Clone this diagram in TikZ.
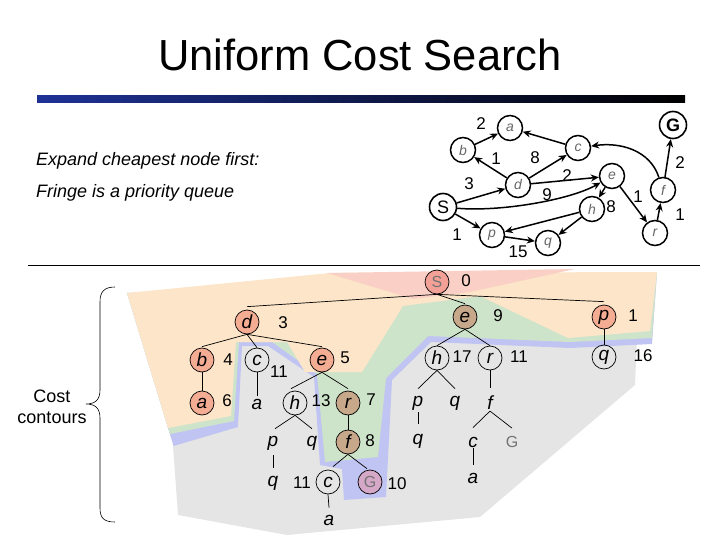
\documentclass[tikz,border=0pt]{standalone}
\usepackage{fontspec}
\setmainfont{Liberation Sans}
\usetikzlibrary{arrows.meta}
\definecolor{cred}{RGB}{250,208,198}
\definecolor{corange}{RGB}{252,229,200}
\definecolor{cgreen}{RGB}{206,228,202}
\definecolor{cblue}{RGB}{192,196,242}
\definecolor{cgray}{RGB}{229,229,229}
\definecolor{nsalmon}{RGB}{244,172,146}
\definecolor{nred}{RGB}{243,160,150}
\definecolor{nbrown}{RGB}{200,168,138}
\definecolor{npink}{RGB}{214,168,200}
\definecolor{barblue}{RGB}{30,50,150}
\begin{document}
\begin{tikzpicture}[x=1pt,y=-1pt,
 gn/.style={circle,draw,line width=1.5pt,minimum size=25pt,inner sep=0pt,font=\fontsize{14}{14}\selectfont\itshape,text=black!60},
 gb/.style={circle,draw,line width=1.6pt,minimum size=27pt,inner sep=0pt,font=\fontsize{18}{18}\selectfont\bfseries},
 gw/.style={inner sep=0pt,font=\fontsize{17}{17}\selectfont},
 ga/.style={-{Stealth[length=8pt,width=7pt]},line width=1.5pt},
 tn/.style={circle,draw,line width=0.7pt,minimum size=24pt,inner sep=0pt,font=\fontsize{19}{19}\selectfont\itshape},
 tt/.style={inner sep=1pt,font=\fontsize{19}{19}\selectfont\itshape},
 tc/.style={inner sep=0pt,font=\fontsize{17}{17}\selectfont},
 te/.style={line width=0.7pt}]
\useasboundingbox (0,0) rectangle (720,540);
% title
\node[font=\fontsize{43.5}{50}\selectfont] (title) at (360,55) {Uniform Cost Search};
\shade[left color=barblue,right color=black] (37,96) rectangle (685,103);
\node[anchor=west,font=\fontsize{18}{20}\selectfont\itshape,inner sep=0pt] (t1) at (36,161) {Expand cheapest node first:};
\node[anchor=west,font=\fontsize{18}{20}\selectfont\itshape,inner sep=0pt] (t2) at (36,193) {Fringe is a priority queue};
\draw[line width=0.8pt] (28,265) -- (700,265);
% state graph
\node[gn] (ga) at (510,128) {a};
\node[gn] (gb) at (463,150) {b};
\node[gn] (gc) at (578,148) {c};
\node[gn] (gd) at (518,185) {d};
\node[gn] (ge) at (612,176) {e};
\node[gb,font=\fontsize{18}{18}\selectfont] (gS) at (443,207) {S};
\node[gn] (gh) at (592,209) {h};
\node[gn] (gp) at (492,235) {p};
\node[gn] (gq) at (548,243) {q};
\node[gn] (gr) at (655,233) {r};
\node[gn] (gf) at (663,190) {f};
\node[gb] (gG) at (673,125) {G};
\draw[ga] (gb) -- (ga);
\draw[ga] (gd) -- (gb);
\draw[ga] (gd) -- (gc);
\draw[ga] (gc) -- (ga);
\draw[ga] (gS) -- (gd);
\draw[ga] (gd) -- (ge);
\draw[ga] (gS) .. controls (500,212) and (570,200) .. (ge);
\draw[ga] (ge) -- (gh);
\draw[ga] (ge) -- (gr);
\draw[ga] (gS) -- (gp);
\draw[ga] (gp) -- (gq);
\draw[ga] (gh) -- (gp);
\draw[ga] (gh) -- (gq);
\draw[ga] (gr) -- (gf);
\draw[ga] (gf) -- (gG);
\draw[ga] (gf) .. controls (650,150) and (620,142) .. (gc);
\node[gw] (w1) at (481,124) {2};
\node[gw] (w2) at (496,159) {1};
\node[gw] (w3) at (535,158) {8};
\node[gw] (w4) at (469,184) {3};
\node[gw] (w5) at (567,176) {2};
\node[gw] (w6) at (547,195) {9};
\node[gw] (w7) at (611,207) {8};
\node[gw] (w8) at (638,197) {1};
\node[gw] (w9) at (457,235) {1};
\node[gw] (w10) at (518,252) {15};
\node[gw] (w11) at (680,163) {2};
\node[gw] (w12) at (680,215) {1};
% contours
\fill[cgray] (173,446) -- (178,515) -- (287,535) -- (480,517) -- (635,385) -- (637,338) -- (430,335) -- (243,343) -- cycle;
\fill[cblue] (127,293) -- (657,272) -- (652,344) -- (570,348) -- (431,342) -- (392,380) -- (386,497) -- (344,500) -- (342,469) -- (320,465) -- (314,377) -- (268,346) -- (242,346) -- (238,427) -- (173.5,446) -- cycle;
\fill[cgreen] (127,293) -- (657,272) -- (652,338) -- (570,342) -- (428,336) -- (386,378) -- (378,457) -- (325,462) -- (317,374) -- (272,342) -- (239,342) -- (234,421) -- (170,434) -- cycle;
\fill[corange] (127,293) -- (330,273) -- (657,272) -- (650,331) -- (568,338) -- (480,296) -- (403,306) -- (362,372) -- (305,372) -- (287,342) -- (236,342) -- (231,416) -- (168,428) -- cycle;
\fill[cred] (327,273) -- (575,269) -- (470,292) -- (413,299) -- cycle;
% search tree
\node[tn,fill=nred,text=black!55,font=\fontsize{16}{16}\selectfont] (S) at (437,282) {S};
\node[tn,fill=nsalmon] (d) at (247,322) {d};
\node[tn,fill=nbrown] (e9) at (465,317) {e};
\node[tn,fill=nsalmon] (p1) at (604,317) {p};
\node[tn,fill=nsalmon] (b) at (202,360) {b};
\node[tn] (c11a) at (257,360) {c};
\node[tn,fill=nsalmon] (e5) at (322,360) {e};
\node[tn,fill=nsalmon] (a6) at (202,403) {a};
\node[tt] (aa) at (257,404) {a};
\node[tn] (h13) at (295,403) {h};
\node[tn,fill=nbrown] (r7) at (348,403) {r};
\node[tt] (p13) at (273,443) {p};
\node[tt] (q13) at (312,443) {q};
\node[tt] (qq13) at (273,483) {q};
\node[tn,fill=nbrown] (f8) at (348,442) {f};
\node[tn] (c11b) at (328,482) {c};
\node[tn,fill=npink,text=black!55,font=\fontsize{16}{16}\selectfont] (G10) at (370,482) {G};
\node[tt] (ab) at (329,520) {a};
\node[tn] (h17) at (437,358) {h};
\node[tn] (r11) at (490,358) {r};
\node[tn] (q16) at (604,357) {q};
\node[tt] (p17) at (418,403) {p};
\node[tt] (q17) at (455,403) {q};
\node[tt] (qq17) at (418,441) {q};
\node[tt] (f11) at (490,403) {f};
\node[tt] (c12) at (473,442) {c};
\node[tc,text=black!55,font=\fontsize{16}{16}\selectfont] (G12) at (512,442) {G};
\node[tt] (a12) at (473,478) {a};
% costs
\node[tc] (k0) at (466,281) {0};
\node[tc] (k3) at (283,323) {3};
\node[tc] (k9) at (498,316) {9};
\node[tc] (k1) at (633,316) {1};
\node[tc] (k4) at (228,360) {4};
\node[tc] (k11a) at (279,372) {11};
\node[tc] (k5) at (345,358) {5};
\node[tc] (k6) at (227,401) {6};
\node[tc] (k13) at (321,401) {13};
\node[tc] (k7) at (371,400) {7};
\node[tc] (k8) at (370,441) {8};
\node[tc] (k11b) at (302,483) {11};
\node[tc] (k10) at (397,484) {10};
\node[tc] (k17) at (462,357) {17};
\node[tc] (k11c) at (519,357) {11};
\node[tc] (k16) at (643,356) {16};
% tree edges
\draw[te] (S.south) -- ([yshift=3pt]d.north);
\draw[te] (S.south) -- ([yshift=1pt]e9.north);
\draw[te] (S.south) -- ([yshift=3pt]p1.north);
\draw[te] (d.south) -- ([yshift=1pt]b.north);
\draw[te] (d.south) -- (c11a.north);
\draw[te] (d.south) -- ([yshift=1pt]e5.north);
\draw[te] (b) -- (a6);
\draw[te] (c11a.south) -- ([yshift=2pt]aa.north);
\draw[te] (e5.south) -- ([xshift=-4pt,yshift=2pt]h13.north);
\draw[te] (e5.south) -- ([yshift=2pt]r7.north);
\draw[te] (h13.south) -- ([xshift=2pt,yshift=6pt]p13.north);
\draw[te] (h13.south) -- ([yshift=6pt]q13.north);
\draw[te] ([yshift=-4pt]p13.south) -- ([yshift=7pt]qq13.north);
\draw[te] (r7) -- (f8);
\draw[te] (f8.south) -- ([xshift=5pt,yshift=3pt]c11b.north);
\draw[te] (f8.south) -- ([xshift=-3pt,yshift=1pt]G10.north);
\draw[te] (c11b.south) -- ([yshift=6pt]ab.north);
\draw[te] (e9.south) -- (h17.north);
\draw[te] (e9.south) -- (r11.north);
\draw[te] (h17.south) -- ([yshift=6pt]p17.north);
\draw[te] (h17.south) -- ([yshift=6pt]q17.north);
\draw[te] ([yshift=-1pt]p17.south) -- ([yshift=9pt]qq17.north);
\draw[te] (r11.south) -- ([yshift=7pt]f11.north);
\draw[te] (f11.south) -- ([yshift=8pt]c12.north);
\draw[te] (f11.south) -- ([yshift=8pt]G12.north);
\draw[te] (c12.south) -- ([yshift=7pt]a12.north);
\draw[te] (p1) -- (q16);
% brace
\draw[line width=0.6pt] (115,287) .. controls (104,287) and (100,292) .. (100,302) -- (100,390) .. controls (100,400) and (95,404) .. (86,404) .. controls (95,404) and (100,408) .. (100,418) -- (100,508) .. controls (100,518) and (104,522) .. (115,522);
\node[font=\fontsize{18}{21}\selectfont,align=center] (cc) at (52,407) {Cost\\contours};
\end{tikzpicture}
\end{document}
